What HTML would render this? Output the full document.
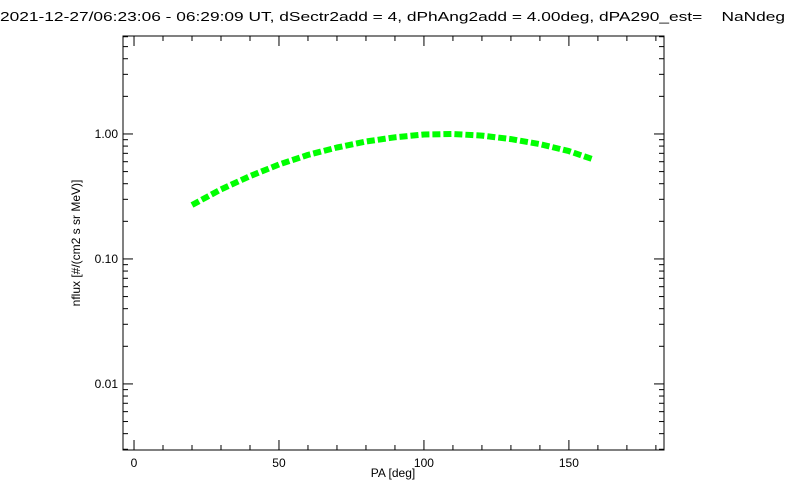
<!DOCTYPE html>
<html><head><meta charset="utf-8"><style>
html,body{margin:0;padding:0;background:#fff;}
svg{display:block;font-family:"Liberation Sans",sans-serif;}
</style></head><body>
<svg id="chart" width="800" height="500" xmlns="http://www.w3.org/2000/svg">
<text x="0" y="21" font-size="13" textLength="785" lengthAdjust="spacingAndGlyphs" xml:space="preserve">2021-12-27/06:23:06 - 06:29:09 UT, dSectr2add = 4, dPhAng2add = 4.00deg, dPA290_est=    NaNdeg</text>
<rect x="123" y="36" width="541" height="414" fill="none" stroke="#000" stroke-width="1"/>
<g id="ticks"></g>
<g id="labels" font-size="12"></g>
<text x="393" y="477" font-size="12" text-anchor="middle">PA [deg]</text>
<text transform="translate(80,243) rotate(-90)" font-size="12" text-anchor="middle">nflux [#/(cm2 s sr MeV)]</text>
<polyline id="series" fill="none" stroke="#00ff00" stroke-width="6" stroke-dasharray="8 3" stroke-linejoin="round"/>
</svg>
<script>
const paValues = [20, 30, 40, 50, 60, 70, 80, 90, 100, 110, 120, 130, 140, 150, 158];
const fluxValues = [0.27, 0.36, 0.46, 0.57, 0.68, 0.78, 0.87, 0.94, 0.99, 1.0, 0.97, 0.91, 0.83, 0.73, 0.63];
const xTickLabels = ["0", "50", "100", "150"];
const xTickValues = [0, 50, 100, 150];
const yTickLabels = ["0.01", "0.10", "1.00"];
const yTickValues = [0.01, 0.1, 1];

const L=123,R=664,T=36,B=450;
const xMin=-3.8,xMax=182.8;
const yMin=Math.log10(0.00296),yMax=Math.log10(6.08);
const xs=v=>L+(v-xMin)/(xMax-xMin)*(R-L);
const ys=v=>B-(Math.log10(v)-yMin)/(yMax-yMin)*(B-T);
const NS="http://www.w3.org/2000/svg";
const tg=document.getElementById('ticks'), lg=document.getElementById('labels');
function line(x1,y1,x2,y2){const l=document.createElementNS(NS,'line');
l.setAttribute('x1',x1);l.setAttribute('y1',y1);l.setAttribute('x2',x2);l.setAttribute('y2',y2);
l.setAttribute('stroke','#000');


tg.appendChild(l);}
for(let v=0;v<=180;v+=10){const x=xs(v);const len=v%50===0?10:5;line(x,B,x,B-len);line(x,T,x,T+len);}
for(let d=-3;d<=0;d++){for(let m=1;m<=9;m++){const v=m*Math.pow(10,d);const y=ys(v);if(y<T||y>B)continue;const len=m===1?10:5;line(L,y,L+len,y);line(R,y,R-len,y);}}
xTickValues.forEach((v,i)=>{const t=document.createElementNS(NS,'text');t.setAttribute('x',xs(v));t.setAttribute('y',467);t.setAttribute('text-anchor','middle');t.textContent=xTickLabels[i];


lg.appendChild(t);});
yTickValues.forEach((v,i)=>{const t=document.createElementNS(NS,'text');t.setAttribute('x',L-5);t.setAttribute('y',ys(v)+4);t.setAttribute('text-anchor','end');t.textContent=yTickLabels[i];


lg.appendChild(t);});
document.getElementById('series').setAttribute('points',paValues.map((p,i)=>xs(p).toFixed(1)+','+ys(fluxValues[i]).toFixed(1)).join(' '));
</script>
</body></html>
